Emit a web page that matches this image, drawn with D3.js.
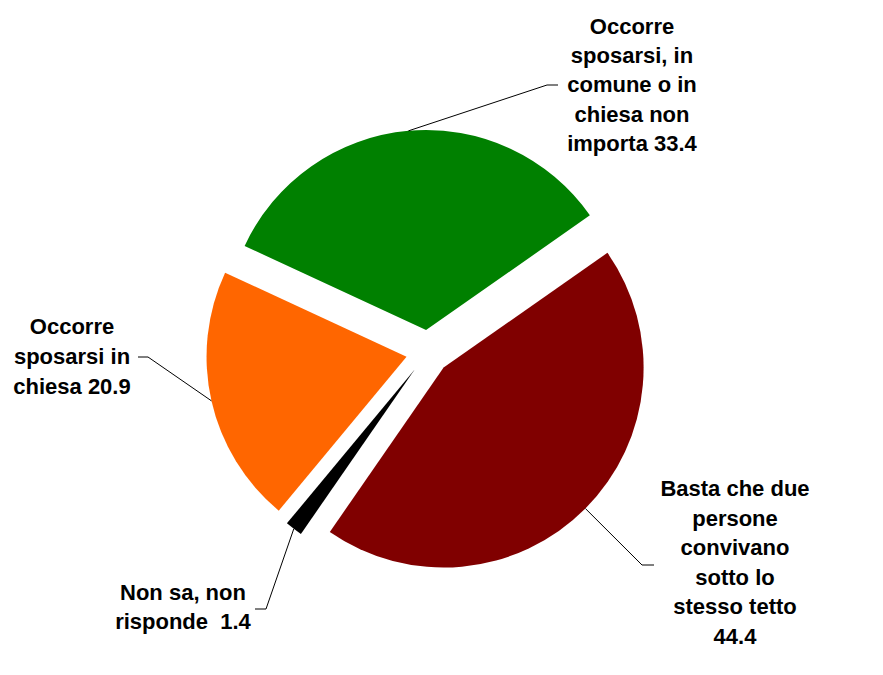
<!DOCTYPE html>
<html>
<head>
<meta charset="utf-8">
<script src="https://cdn.jsdelivr.net/npm/d3@7"></script>
<style>
  body { margin: 0; background: #fff; }
  svg text { font-family: "Liberation Sans", Arial, sans-serif; font-weight: bold; font-size: 22px; fill: #000; }
</style>
</head>
<body>
<div class="chart"></div>
<script>
// dati
var categories = [
  "Basta che due persone convivano sotto lo stesso tetto",
  "Non sa, non risponde",
  "Occorre sposarsi in chiesa",
  "Occorre sposarsi, in comune o in chiesa non importa"
];
var values = [44.4, 1.4, 20.9, 33.4];
var colors = ["#800000", "#000000", "#FF6600", "#008000"];
var labelLines = [
  ["Basta che due", "persone", "convivano", "sotto lo", "stesso tetto", "44.4"],
  ["Non sa, non", "risponde  1.4"],
  ["Occorre", "sposarsi in", "chiesa 20.9"],
  ["Occorre", "sposarsi, in", "comune o in", "chiesa non", "importa 33.4"]
];

// layout delle etichette (centro x, baseline prima riga, gomito e fine della linea guida)
var labelLayout = [
  { x: 735, y: 496, lh: 29.6, elbow: [642, 565], end: [654, 565] },
  { x: 183, y: 600, lh: 28.5, elbow: [266, 609], end: [255, 609] },
  { x: 72,  y: 334, lh: 29.8, elbow: [148, 357], end: [138, 357] },
  { x: 632, y: 34,  lh: 29.2, elbow: [547, 85],  end: [558, 85] }
];

var width = 883, height = 675;
var cx = 428, cy = 352;
var radius = 200;
var explode = 22;

var svg = d3.select("div.chart").append("svg").attr("width", width).attr("height", height);

var pie = d3.pie()
  .sort(null)
  .startAngle(55 * Math.PI / 180)
  .endAngle(55 * Math.PI / 180 + 2 * Math.PI);

var arcs = pie(values);
var arc = d3.arc().innerRadius(0).outerRadius(radius);

var g = svg.append("g").attr("transform", "translate(" + cx + "," + cy + ")");

// fette esplose
g.selectAll("path.slice")
  .data(arcs)
  .enter()
  .append("path")
  .attr("class", "slice")
  .attr("fill", function(d, i) { return colors[i]; })
  .attr("transform", function(d) {
    var p = d3.pointRadial((d.startAngle + d.endAngle) / 2, explode);
    return "translate(" + p[0] + "," + p[1] + ")";
  })
  .attr("d", arc);

// linee guida
arcs.forEach(function(d, i) {
  var mid = (d.startAngle + d.endAngle) / 2;
  var off = d3.pointRadial(mid, explode);
  var p = d3.pointRadial(mid, radius);
  var start = [cx + off[0] + p[0], cy + off[1] + p[1]];
  var L = labelLayout[i];
  svg.append("path")
    .attr("fill", "none")
    .attr("stroke", "#000")
    .attr("stroke-width", 1)
    .attr("d", d3.line()([start, L.elbow, L.end]));
});

// etichette
labelLines.forEach(function(lines, i) {
  var L = labelLayout[i];
  var t = svg.append("text")
    .attr("text-anchor", "middle")
    .attr("xml:space", "preserve")
    .style("white-space", "pre");
  lines.forEach(function(s, k) {
    t.append("tspan")
      .attr("x", L.x)
      .attr("y", L.y + k * L.lh)
      .text(s);
  });
});
</script>
</body>
</html>
